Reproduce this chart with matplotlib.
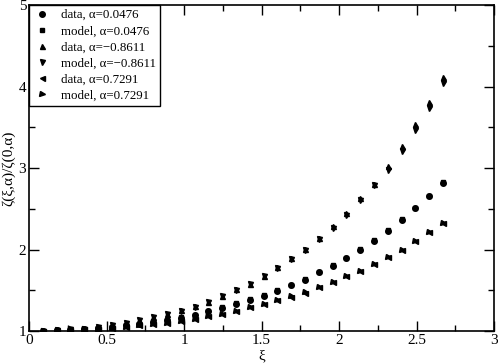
import matplotlib
matplotlib.use("Agg")
import matplotlib.pyplot as plt
from matplotlib.ticker import MultipleLocator

plt.rcParams['font.family'] = ['Liberation Serif', 'DejaVu Serif']

# xi values
xi = [0.089, 0.178, 0.267, 0.356, 0.445, 0.534, 0.623, 0.712, 0.801, 0.890,
      0.979, 1.068, 1.157, 1.246, 1.335, 1.424, 1.513, 1.602, 1.691, 1.780,
      1.869, 1.958, 2.047, 2.136, 2.225, 2.314, 2.403, 2.492, 2.581, 2.670]

# alpha = 0.0476
data_a1 = [1.00, 1.01, 1.01, 1.02, 1.04, 1.05, 1.07, 1.09, 1.11, 1.13,
           1.16, 1.20, 1.24, 1.28, 1.33, 1.38, 1.43, 1.49, 1.56, 1.63,
           1.72, 1.80, 1.90, 2.00, 2.11, 2.23, 2.36, 2.51, 2.66, 2.82]
model_a1 = [1.00, 1.01, 1.01, 1.02, 1.04, 1.05, 1.07, 1.09, 1.12, 1.14,
            1.17, 1.20, 1.24, 1.29, 1.34, 1.39, 1.44, 1.50, 1.57, 1.64,
            1.72, 1.81, 1.90, 2.01, 2.12, 2.24, 2.37, 2.51, 2.66, 2.83]

# alpha = -0.8611
data_a2 = [1.00, 1.01, 1.02, 1.03, 1.05, 1.07, 1.10, 1.14, 1.17, 1.21,
           1.26, 1.31, 1.36, 1.43, 1.51, 1.58, 1.67, 1.78, 1.89, 2.01,
           2.14, 2.29, 2.45, 2.63, 2.81, 3.02, 3.27, 3.54, 3.81, 4.12]
model_a2 = [1.00, 1.01, 1.02, 1.03, 1.05, 1.07, 1.10, 1.13, 1.17, 1.21,
            1.25, 1.30, 1.36, 1.43, 1.50, 1.58, 1.67, 1.77, 1.88, 2.00,
            2.13, 2.27, 2.43, 2.61, 2.79, 2.98, 3.21, 3.47, 3.74, 4.04]

# alpha = 0.7291
data_a3 = [1.00, 1.00, 1.01, 1.02, 1.03, 1.04, 1.05, 1.07, 1.09, 1.10,
           1.12, 1.15, 1.18, 1.21, 1.25, 1.29, 1.33, 1.38, 1.42, 1.47,
           1.54, 1.60, 1.67, 1.74, 1.82, 1.91, 2.00, 2.10, 2.21, 2.32]
model_a3 = [1.00, 1.00, 1.01, 1.02, 1.03, 1.04, 1.05, 1.07, 1.09, 1.10,
            1.12, 1.15, 1.18, 1.21, 1.25, 1.29, 1.33, 1.38, 1.43, 1.48,
            1.54, 1.60, 1.67, 1.74, 1.82, 1.91, 2.00, 2.10, 2.21, 2.33]

fig = plt.figure(figsize=(4.98, 3.64), dpi=100)
ax = fig.add_axes([0.0582, 0.0907, 0.934, 0.895])

ax.plot(xi, data_a1, 'o', color='k', ms=4.0, label="data, \u03b1=0.0476")
ax.plot(xi, model_a1, 's', color='k', ms=3.4, label="model, \u03b1=0.0476")
ax.plot(xi, data_a2, '^', color='k', ms=3.6, label="data, \u03b1=\u22120.8611")
ax.plot(xi, model_a2, 'v', color='k', ms=3.6, label="model, \u03b1=\u22120.8611")
ax.plot(xi, data_a3, '<', color='k', ms=3.6, label="data, \u03b1=0.7291")
ax.plot(xi, model_a3, '>', color='k', ms=3.6, label="model, \u03b1=0.7291")

ax.set_xlim(0, 3)
ax.set_ylim(1, 5)
ax.xaxis.set_minor_locator(MultipleLocator(0.25))
ax.yaxis.set_minor_locator(MultipleLocator(0.5))
ax.set_xticks([0, 0.5, 1, 1.5, 2, 2.5, 3])
ax.set_xticklabels(['0', '0.5', '1', '1.5', '2', '2.5', '3'])
ax.set_yticks([1, 2, 3, 4, 5])
ax.set_yticklabels(['1', '2', '3', '4', '5'])
ax.tick_params(which='both', direction='in', top=True, right=True,
               labelsize=11, pad=2)
ax.tick_params(which='major', length=7, width=1)
ax.tick_params(which='minor', length=4, width=1)
for s in ax.spines.values():
    s.set_linewidth(1.2)

ax.set_xlabel("\u03be", fontsize=11, labelpad=2)
ax.set_ylabel("\u03b6(\u03be,\u03b1)/\u03b6(0,\u03b1)", fontsize=11, labelpad=2)

leg = ax.legend(loc='upper left', fontsize=9.3, frameon=True, fancybox=False,
                borderaxespad=0, handletextpad=0.8, handlelength=1.4,
                labelspacing=0.32, borderpad=0.3)
leg.get_frame().set_edgecolor('k')
leg.get_frame().set_linewidth(1)
leg.get_frame().set_alpha(1)

fig.savefig("out.png", dpi=100)
